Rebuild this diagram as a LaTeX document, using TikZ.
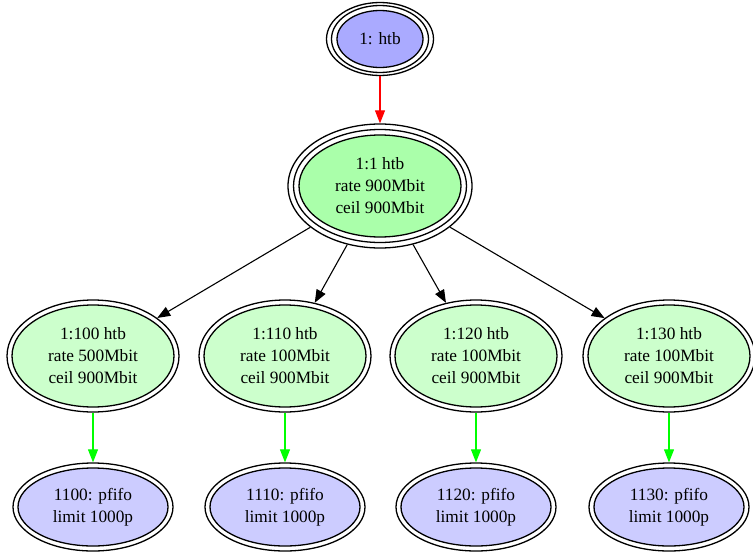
\documentclass[tikz,border=0pt]{standalone}
\usepackage{fontspec}
\setmainfont{Liberation Serif}
\usetikzlibrary{shapes.geometric,arrows.meta}
\definecolor{cTop}{HTML}{AAAAFF}
\definecolor{cMid}{HTML}{AAFFAA}
\definecolor{cCls}{HTML}{CCFFCC}
\definecolor{cLeaf}{HTML}{CCCCFF}
\definecolor{cRed}{HTML}{FF0000}
\definecolor{cGreen}{HTML}{00FF00}
\tikzset{
  core/.style={ellipse, draw=black, line width=1.3pt, inner sep=0pt, align=center,
    font=\fontsize{17.3}{22}\selectfont},
  peri/.style={ellipse, draw=black, line width=1.3pt, inner sep=0pt},
  topn/.style={core, fill=cTop, minimum width=86pt, minimum height=57pt},
  topb/.style={peri, minimum width=97pt, minimum height=67pt},
  topo/.style={peri, minimum width=107pt, minimum height=73pt},
  midn/.style={core, fill=cMid, minimum width=162pt, minimum height=102pt},
  midb/.style={peri, minimum width=173pt, minimum height=113pt},
  mido/.style={peri, minimum width=184pt, minimum height=124pt},
  clsn/.style={core, fill=cCls, minimum width=162pt, minimum height=102pt},
  clso/.style={peri, minimum width=172pt, minimum height=112pt},
  leafn/.style={core, fill=cLeaf, minimum width=150pt, minimum height=78pt},
  leafo/.style={peri, minimum width=160pt, minimum height=88pt},
  edgeblack/.style={draw=black, line width=1.1pt, -{Triangle[length=13pt,width=10pt]}},
  edgered/.style={edgeblack, draw=cRed, fill=cRed},
  edgegreen/.style={edgeblack, draw=cGreen, fill=cGreen},
}
\begin{document}
\begin{tikzpicture}[x=1pt, y=-1pt]
\useasboundingbox (0,0) rectangle (753,552);
% root qdisc
\node[topn] (root) at (380,39) {1: htb};
\node[topb] (rootb) at (root) {};
\node[topo] (rooto) at (root) {};
% 1:1 class
\node[midn] (c11) at (380,186) {1:1 htb\\rate 900Mbit\\ceil 900Mbit};
\node[midb] (c11b) at (c11) {};
\node[mido] (c11o) at (c11) {};
% leaf classes
\node[clsn] (c100) at (93,356) {1:100 htb\\rate 500Mbit\\ceil 900Mbit};
\node[clso] (c100o) at (c100) {};
\node[clsn] (c110) at (285,356) {1:110 htb\\rate 100Mbit\\ceil 900Mbit};
\node[clso] (c110o) at (c110) {};
\node[clsn] (c120) at (476,356) {1:120 htb\\rate 100Mbit\\ceil 900Mbit};
\node[clso] (c120o) at (c120) {};
\node[clsn] (c130) at (669,356) {1:130 htb\\rate 100Mbit\\ceil 900Mbit};
\node[clso] (c130o) at (c130) {};
% pfifo qdiscs
\node[leafn] (q1100) at (93,507) {1100: pfifo\\limit 1000p};
\node[leafo] (q1100o) at (q1100) {};
\node[leafn] (q1110) at (285,507) {1110: pfifo\\limit 1000p};
\node[leafo] (q1110o) at (q1110) {};
\node[leafn] (q1120) at (476,507) {1120: pfifo\\limit 1000p};
\node[leafo] (q1120o) at (q1120) {};
\node[leafn] (q1130) at (669,507) {1130: pfifo\\limit 1000p};
\node[leafo] (q1130o) at (q1130) {};
% edges
\draw[edgered] (rooto) -- (c11o);
\draw[edgeblack] (c11o) -- (c100o);
\draw[edgeblack] (c11o) -- (c110o);
\draw[edgeblack] (c11o) -- (c120o);
\draw[edgeblack] (c11o) -- (c130o);
\draw[edgegreen] (c100o) -- (q1100o);
\draw[edgegreen] (c110o) -- (q1110o);
\draw[edgegreen] (c120o) -- (q1120o);
\draw[edgegreen] (c130o) -- (q1130o);
\end{tikzpicture}
\end{document}
